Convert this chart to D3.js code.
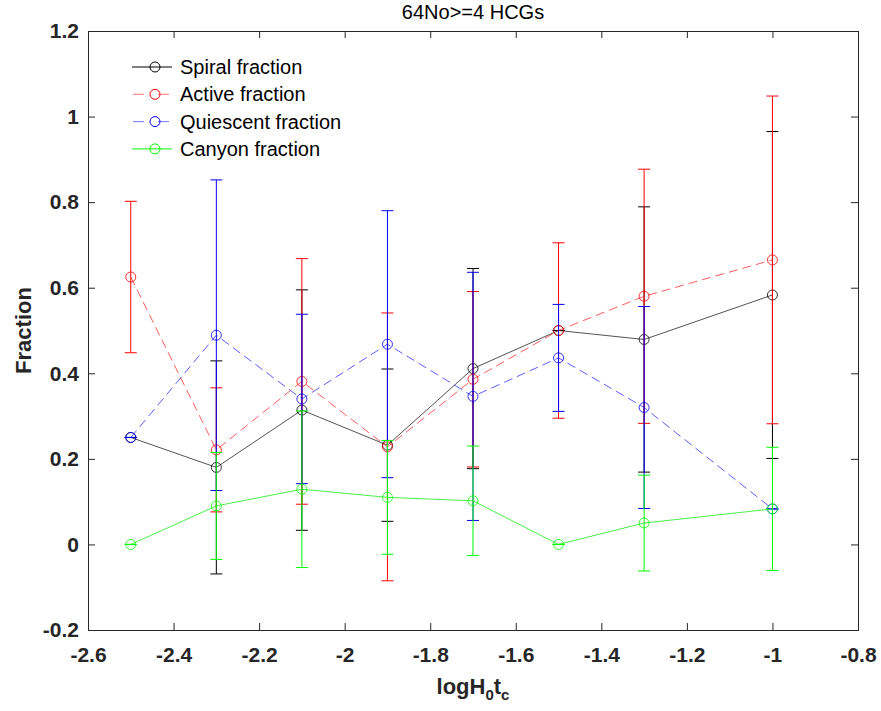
<!DOCTYPE html>
<html>
<head>
<meta charset="utf-8">
<script src="https://cdn.jsdelivr.net/npm/d3@7"></script>
<style>
  body { margin: 0; background: #fff; }
  svg { display: block; font-family: "Liberation Sans", Arial, sans-serif; }
</style>
</head>
<body>
<div class="chart"></div>
<script>
const logH0tc = [-2.5, -2.3, -2.1, -1.9, -1.7, -1.5, -1.3, -1.0];

const spiral = [0.25, 0.18, 0.314, 0.232, 0.411, 0.5, 0.479, 0.583];
const spiralErr = [0, 0.249, 0.281, 0.178, 0.234, 0, 0.31, 0.382];

const active = [0.625, 0.221, 0.381, 0.228, 0.386, 0.5, 0.58, 0.665];
const activeErr = [0.177, 0.145, 0.287, 0.313, 0.205, 0.205, 0.297, 0.383];

const quiescent = [0.25, 0.489, 0.34, 0.468, 0.346, 0.436, 0.32, 0.083];
const quiescentErr = [0, 0.363, 0.198, 0.312, 0.29, 0.125, 0.236, 0];

const canyon = [0, 0.09, 0.129, 0.11, 0.102, 0, 0.05, 0.083];
const canyonErr = [0, 0.125, 0.183, 0.133, 0.128, 0, 0.112, 0.144];

const seriesNames = ["Spiral fraction", "Active fraction", "Quiescent fraction", "Canyon fraction"];

const xTicks = [-2.6, -2.4, -2.2, -2, -1.8, -1.6, -1.4, -1.2, -1, -0.8];
const xTickLabels = ["-2.6", "-2.4", "-2.2", "-2", "-1.8", "-1.6", "-1.4", "-1.2", "-1", "-0.8"];
const yTicks = [-0.2, 0, 0.2, 0.4, 0.6, 0.8, 1, 1.2];
const yTickLabels = ["-0.2", "0", "0.2", "0.4", "0.6", "0.8", "1", "1.2"];

const w = 881;
const h = 711;
const margin = { top: 31, right: 23, bottom: 81, left: 88 };
const iw = w - margin.left - margin.right;
const ih = h - margin.top - margin.bottom;
const axisColor = "#262626";

const svg = d3.select(".chart")
  .append("svg")
  .attr("width", w)
  .attr("height", h);

const xScale = d3.scaleLinear().domain([-2.6, -0.8]).range([0, iw]);
const yScale = d3.scaleLinear().domain([-0.2, 1.2]).range([ih, 0]);

const g = svg.append("g").attr("transform", `translate(${margin.left},${margin.top})`);

// axes, ticks point inward on all four sides
const styleAxis = (sel) => {
  sel.select(".domain").remove();
  sel.selectAll(".tick line").attr("stroke", axisColor);
  sel.selectAll(".tick text")
    .attr("fill", axisColor)
    .attr("font-size", 21)
    .attr("font-weight", "bold");
};

g.append("g")
  .attr("transform", `translate(0,${ih})`)
  .call(d3.axisBottom(xScale).tickValues(xTicks)
    .tickFormat((d, i) => xTickLabels[i])
    .tickSizeInner(-7).tickSizeOuter(0).tickPadding(17))
  .call(styleAxis);

g.append("g")
  .call(d3.axisTop(xScale).tickValues(xTicks).tickFormat("")
    .tickSizeInner(-7).tickSizeOuter(0))
  .call(styleAxis);

g.append("g")
  .call(d3.axisLeft(yScale).tickValues(yTicks)
    .tickFormat((d, i) => yTickLabels[i])
    .tickSizeInner(-7).tickSizeOuter(0).tickPadding(9))
  .call(styleAxis);

g.append("g")
  .attr("transform", `translate(${iw},0)`)
  .call(d3.axisRight(yScale).tickValues(yTicks).tickFormat("")
    .tickSizeInner(-7).tickSizeOuter(0))
  .call(styleAxis);

g.append("rect")
  .attr("x", 0.5).attr("y", 0.5)
  .attr("width", iw).attr("height", ih)
  .attr("fill", "none")
  .attr("stroke", axisColor)
  .attr("stroke-width", 1);

// series
const series = [
  { name: seriesNames[0], values: spiral, errs: spiralErr, color: "#000000", lineColor: "#404040", dash: null },
  { name: seriesNames[1], values: active, errs: activeErr, color: "#ff0000", lineColor: "#ff4a4a", dash: "9,5" },
  { name: seriesNames[2], values: quiescent, errs: quiescentErr, color: "#0000ff", lineColor: "#4a4aff", dash: "9,5" },
  { name: seriesNames[3], values: canyon, errs: canyonErr, color: "#00ff00", lineColor: "#33ee33", dash: null },
];

const line = d3.line()
  .x((d) => xScale(d[0]))
  .y((d) => yScale(d[1]));

const capW = 6;

series.forEach((s) => {
  const pts = logH0tc.map((x, i) => [x, s.values[i], s.errs[i]]);
  const sg = g.append("g");

  sg.append("path")
    .datum(pts)
    .attr("d", line)
    .attr("fill", "none")
    .attr("stroke", s.lineColor)
    .attr("stroke-width", 0.9)
    .attr("stroke-dasharray", s.dash);

  const eb = sg.selectAll(".err")
    .data(pts)
    .join("g")
    .attr("class", "err")
    .attr("stroke", s.color)
    .attr("stroke-width", 1);

  eb.append("line")
    .attr("x1", (d) => xScale(d[0])).attr("x2", (d) => xScale(d[0]))
    .attr("y1", (d) => yScale(d[1] - d[2])).attr("y2", (d) => yScale(d[1] + d[2]));
  eb.append("line")
    .attr("x1", (d) => xScale(d[0]) - capW).attr("x2", (d) => xScale(d[0]) + capW)
    .attr("y1", (d) => yScale(d[1] + d[2])).attr("y2", (d) => yScale(d[1] + d[2]));
  eb.append("line")
    .attr("x1", (d) => xScale(d[0]) - capW).attr("x2", (d) => xScale(d[0]) + capW)
    .attr("y1", (d) => yScale(d[1] - d[2])).attr("y2", (d) => yScale(d[1] - d[2]));

  sg.selectAll("circle")
    .data(pts)
    .join("circle")
    .attr("cx", (d) => xScale(d[0]))
    .attr("cy", (d) => yScale(d[1]))
    .attr("r", 5)
    .attr("fill", "none")
    .attr("stroke", s.color)
    .attr("stroke-opacity", 0.8)
    .attr("stroke-width", 1);
});

// legend
const legend = svg.append("g").attr("transform", "translate(132,67)");
series.forEach((s, i) => {
  const row = legend.append("g").attr("transform", `translate(0,${i * 27.3})`);
  row.append("line")
    .attr("x1", 0).attr("x2", 40)
    .attr("stroke", s.dash ? s.lineColor : s.color)
    .attr("stroke-opacity", s.dash ? 0.75 : 1)
    .attr("stroke-dasharray", s.dash ? "11,14" : null)
    .attr("stroke-dashoffset", s.dash ? -1 : null)
    .attr("stroke-width", 1);
  row.append("circle")
    .attr("cx", 23).attr("cy", 0).attr("r", 5)
    .attr("fill", "none")
    .attr("stroke", s.color)
    .attr("stroke-width", 1);
  row.append("text")
    .attr("x", 48).attr("y", 0).attr("dy", "0.35em")
    .attr("font-size", 20)
    .attr("fill", "#000")
    .text(s.name);
});

// title and axis labels
svg.append("text")
  .attr("x", margin.left + iw / 2).attr("y", 19)
  .attr("text-anchor", "middle")
  .attr("font-size", 20)
  .attr("fill", "#000")
  .text("64No>=4 HCGs");

const xl = svg.append("text")
  .attr("x", margin.left + iw / 2).attr("y", 694)
  .attr("text-anchor", "middle")
  .attr("font-size", 22)
  .attr("font-weight", "bold")
  .attr("fill", axisColor);
xl.append("tspan").text("logH");
xl.append("tspan").attr("font-size", 15).attr("dy", 6).text("0");
xl.append("tspan").attr("dy", -6).text("t");
xl.append("tspan").attr("font-size", 15).attr("dy", 6).text("c");

svg.append("text")
  .attr("transform", `translate(31,${margin.top + ih / 2}) rotate(-90)`)
  .attr("text-anchor", "middle")
  .attr("font-size", 22)
  .attr("font-weight", "bold")
  .attr("fill", axisColor)
  .text("Fraction");
</script>
</body>
</html>
